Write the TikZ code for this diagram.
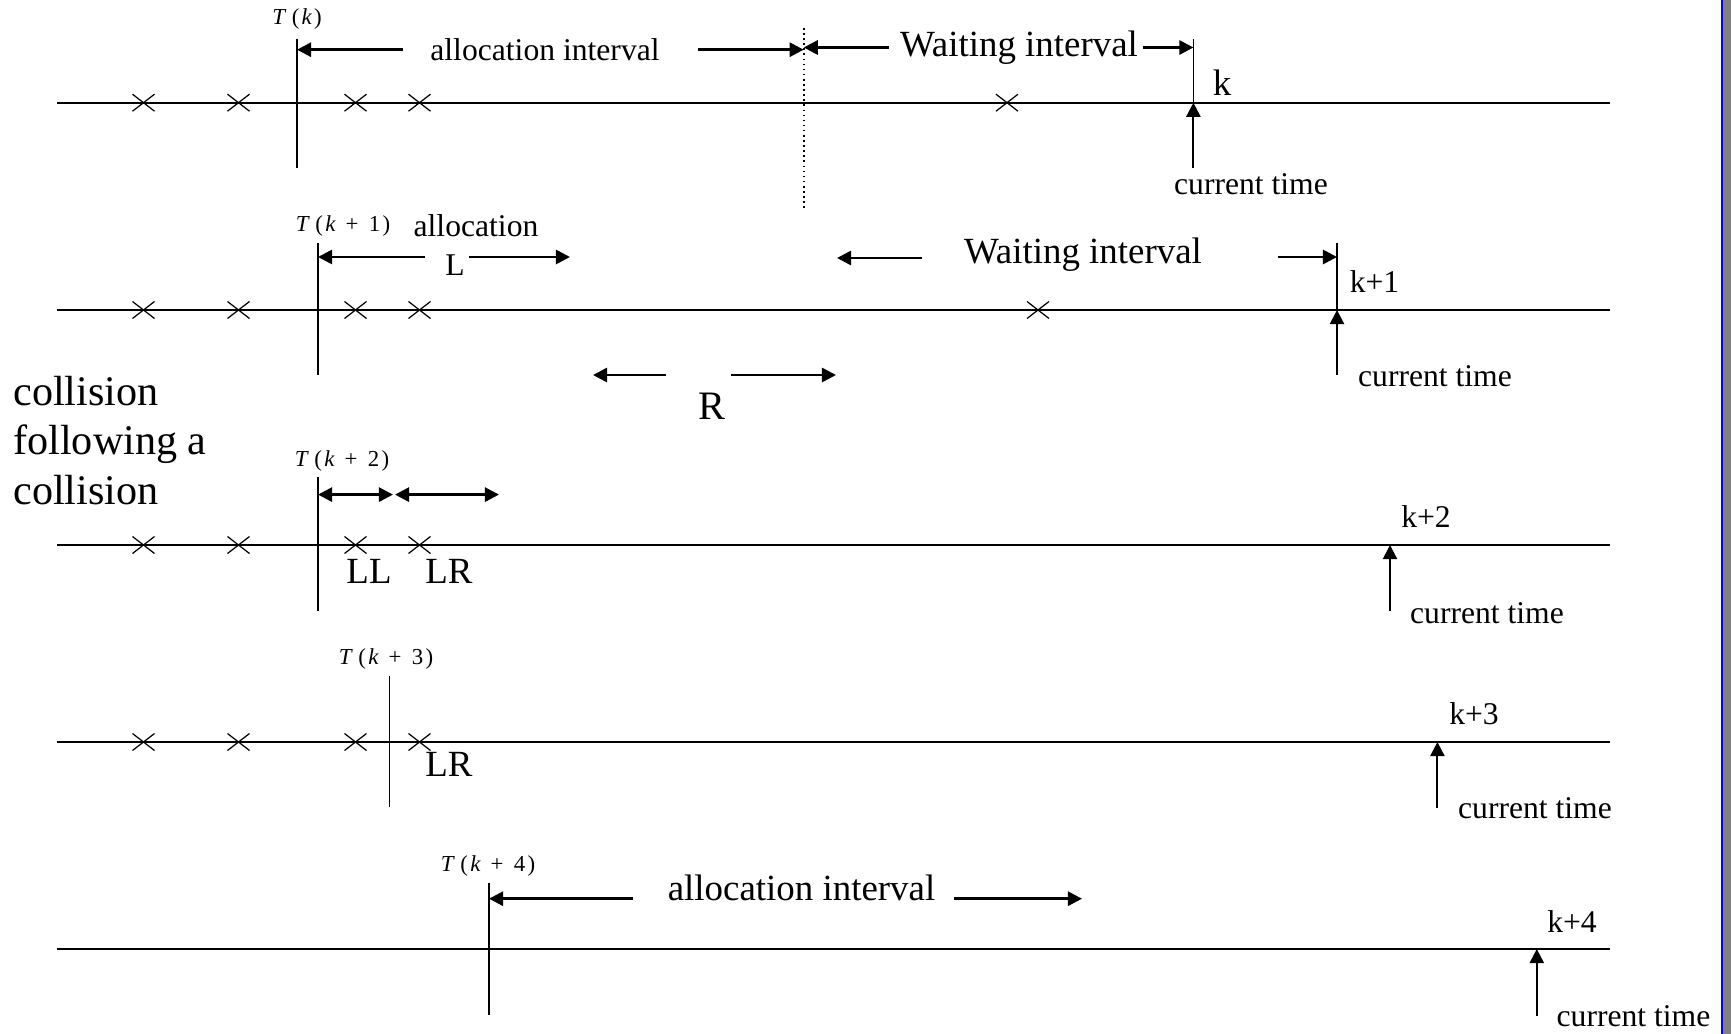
\documentclass[tikz,border=0pt]{standalone}
\usepackage{fontspec}
\setmainfont{Liberation Serif}
\usetikzlibrary{arrows.meta}
\tikzset{>={Triangle[length=8pt,width=8pt]}}
\tikzset{
  axis/.style={line width=1.1pt},
  tick/.style={line width=0.9pt},
  iv/.style={->, line width=1.5pt},
  cur/.style={->, line width=1.2pt},
  cross/.style={line width=0.7pt},
  big/.style={font=\fontsize{24}{28.3}\selectfont, align=left, inner sep=0pt},
  mid/.style={font=\fontsize{21}{24}\selectfont, inner sep=0pt},
  sml/.style={font=\fontsize{18}{21}\selectfont, inner sep=0pt},
  tlab/.style={font=\fontsize{13}{15}\selectfont, inner sep=0pt},
}
\newcommand{\tk}{{\itshape T}\hspace{0.3em}(\hspace{0.1em}{\itshape k}\hspace{0.1em})}
\newcommand{\tkp}[1]{{\itshape T}\hspace{0.3em}(\hspace{0.1em}{\itshape k}\hspace{0.45em}+\hspace{0.45em}#1\hspace{0.1em})}
\newcommand{\xcross}[2]{\draw[cross] (#1,#2) +(-11,-8.5) -- +(11,8.5) +(-11,8.5) -- +(11,-8.5);}

\begin{document}
\begin{tikzpicture}[x=0.02cm, y=-0.02cm]
    \useasboundingbox (0,0) rectangle (1731,1034);
    \fill[blue] (1720.7,0) rectangle (1723.3,1034);
    \fill[gray] (1723.3,0) rectangle (1731,1034);

    \foreach \n/\y in {0/102.7, 1/310, 2/545, 3/742, 4/949}
    \draw[axis] (57,\y) coordinate (s\n) -- (1610,\y) coordinate (e\n);
    \foreach \y in {102.7, 310, 545, 742}
    \foreach \x in {143.5, 238.5, 355.5, 419.5}
    {\xcross{\x}{\y}}
    \xcross{1007}{102.7}
    \xcross{1038}{310}

    % k
    \coordinate (t0) at (297,102.7);
    \coordinate (d0) at (803.7,102.7);
    \coordinate (c0) at (1193.4,102.7);
    \draw[tick] (297,38.6) -- (297,168);
    \draw[tick, dotted] (803.7,28) -- (803.7,208);
    \draw[tick] (1193.4,38.6) -- (c0);
    \node[tlab] (tl0) at (297,19) {\tk};
    \node[sml] (al0) at (545,49.7) {allocation interval};
    \draw[iv] (403,49.7) -- (t0 |- al0);
    \draw[iv] (698,49.7) -- (d0 |- al0);
    \node[mid] (wa0) at (1019,47.5) {Waiting interval};
    \draw[iv] (888.7,47.5) -- (d0 |- wa0);
    \draw[iv] (1142.6,47.5) -- (c0 |- wa0);
    \node[mid] (k0) at (1222,83) {k};
    \draw[cur] (1193.4,168) -- (c0);
    \node[sml] (ct0) at (1251,184) {current time};

    % k+1
    \coordinate (t1) at (318,310);
    \coordinate (c1) at (1337,310);
    \draw[tick] (318,243) -- (318,375);
    \draw[tick] (1337,243) -- (c1);
    \node[tlab] (tl1) at (343,226) {\tkp{1}};
    \node[sml] (al1) at (476,226) {allocation};
    \node[sml] (l1) at (455,265) {L};
    \draw[iv] (425,257) -- (t1 |- 0,257);
    \draw[iv] (469,257) -- (570,257);
    \node[mid] (wa1) at (1083,255) {Waiting interval};
    \draw[iv] (922,258) -- (837,258);
    \draw[iv] (1278,257) -- (c1 |- 0,257);
    \node[sml] (k1) at (1374.5,281.5) {k+1};
    \draw[cur] (1337,375) -- (c1);
    \node[sml] (ct1) at (1435,376.5) {current time};
    \node[mid, font=\fontsize{23}{26}\selectfont] (r1) at (712,406) {R};
    \draw[iv] (665.7,375) -- (593,375);
    \draw[iv] (731,375) -- (836,375);

    \node[big, anchor=west] (coll) at (13,440.5) {collision\\following a\\collision};

    % k+2
    \coordinate (t2) at (318,545);
    \coordinate (c2) at (1390,545);
    \draw[tick] (318,477) -- (318,610.5);
    \node[tlab] (tl2) at (342,461.5) {\tkp{2}};
    \draw[iv, <->] (t2 |- 0,494.6) -- (393,494.6);
    \draw[iv, <->] (395,494.6) -- (499,494.6);
    \node[mid] (ll2) at (369,571) {LL};
    \node[mid] (lr2) at (449,571) {LR};
    \node[sml] (k2) at (1426,517) {k+2};
    \draw[cur] (1390,610.5) -- (c2);
    \node[sml] (ct2) at (1487,613) {current time};

    % k+3
    \coordinate (c3) at (1437.4,742);
    \draw[tick] (389.7,675.6) -- (389.7,807);
    \node[tlab] (tl3) at (386,659) {\tkp{3}};
    \node[mid] (lr3) at (449,764) {LR};
    \node[sml] (k3) at (1474,714) {k+3};
    \draw[cur] (1437.4,808) -- (c3);
    \node[sml] (ct3) at (1535,808) {current time};

    % k+4
    \coordinate (t4) at (489,949);
    \coordinate (c4) at (1536.8,949);
    \draw[tick] (489,883) -- (489,1014.6);
    \node[tlab] (tl4) at (488,865.5) {\tkp{4}};
    \node[mid] (al4) at (801.5,887.6) {allocation interval};
    \draw[iv] (632.6,898.7) -- (t4 |- 0,898.7);
    \draw[iv] (954,898.7) -- (1082,898.7);
    \node[sml] (k4) at (1572,922) {k+4};
    \draw[cur] (1536.8,1015.7) -- (c4);
    \node[sml] (ct4) at (1633.5,1015.7) {current time};
\end{tikzpicture}
\end{document}
